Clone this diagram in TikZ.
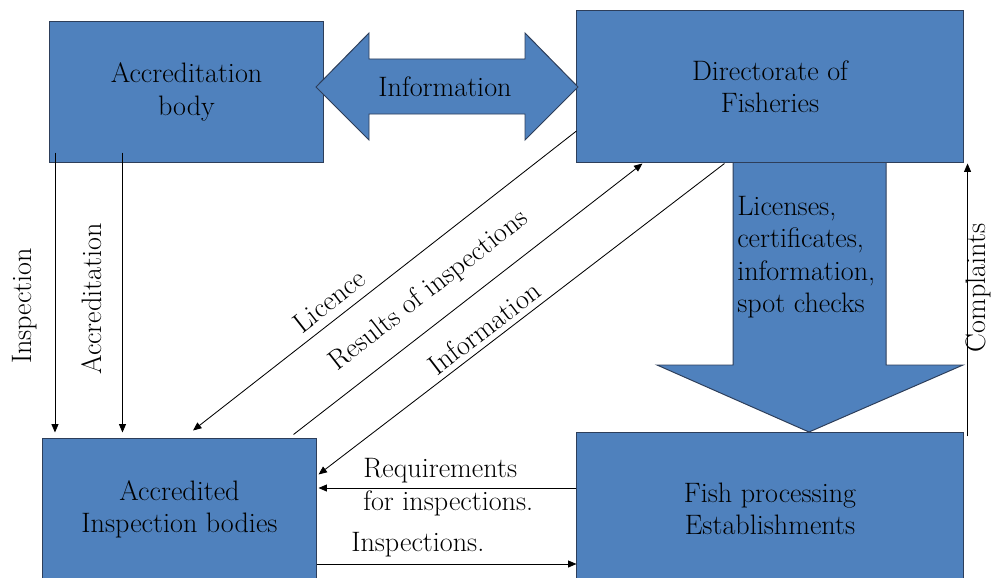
\documentclass[tikz,border=0pt]{standalone}
\usepackage{fontspec}
\usepackage{tikz}
\usetikzlibrary{arrows.meta, positioning, calc}

\definecolor{boxblue}{RGB}{79,129,189}
\definecolor{boxline}{RGB}{45,62,90}
\newcommand{\diagfont}{\rmfamily\fontsize{20}{23}\selectfont}

\begin{document}
\begin{tikzpicture}[
    x=0.025cm, y=-0.025cm,
    every node/.append style={font=\diagfont},
    box/.style={rectangle, draw=boxline, fill=boxblue, line width=0.7pt, inner sep=0pt, align=center},
    blockarrow/.style={draw=boxline, fill=boxblue, line width=0.7pt},
    arrow/.style={-{Triangle[length=6pt, width=5pt]}, line width=0.6pt},
    tag/.style={inner sep=0pt, align=left}
]
\useasboundingbox (0,0) rectangle (992,578);
\clip (0,0) rectangle (992,578);

% Big arrow down to the establishments
\draw[blockarrow] (733,162) -- (886,162) -- (886,365) -- (963,365) -- (809,432) -- (657,365) -- (733,365) -- cycle;
\node[tag, anchor=west] (licenses) at (737,257) {Licenses,\\certificates,\\information,\\spot checks};

% Boxes
\node[box, minimum width=6.825cm, minimum height=3.5cm] (accbody) at (186.5,92) {Accreditation\\body};
\node[box, minimum width=9.65cm, minimum height=3.775cm] (directorate) at (770,86.5) {Directorate of\\Fisheries};
\node[box, minimum width=6.825cm, minimum height=3.5cm] (inspbodies) at (179.5,509) {Accredited\\Inspection bodies};
\node[box, minimum width=9.65cm, minimum height=3.8cm] (fishproc) at (770,509) {Fish processing\\Establishments};

% Double arrow between the top boxes
\draw[blockarrow] (316,87) -- (369,33) -- (369,59) -- (525,59) -- (525,33) -- (578,87)
    -- (525,140) -- (525,114) -- (369,114) -- (369,140) -- cycle;
\node (info) at (445,87) {Information};

% Arrows from the accreditation body
\draw[arrow] ([shift={(5.5,-10)}]accbody.south west) -- ([shift={(12.5,-6)}]inspbodies.north west);
\draw[arrow] ([shift={(73,-10)}]accbody.south west) -- ([shift={(80,-6)}]inspbodies.north west);

% Diagonal arrows
\draw[arrow] ([shift={(0,44.5)}]directorate.west) -- ([shift={(13.5,-8)}]inspbodies.north);
\draw[arrow] ([shift={(-23,-4)}]inspbodies.north east) -- ([shift={(66,1)}]directorate.south west);
\draw[arrow] ([shift={(148,1)}]directorate.south west) -- ([shift={(2,36)}]inspbodies.north east);

% Arrows between the bottom boxes
\draw[arrow] ([shift={(0,-21)}]fishproc.west) -- ([shift={(2,-21)}]inspbodies.east);
\draw[arrow] ([shift={(0,55)}]inspbodies.east) -- ([shift={(0,55)}]fishproc.west);

% Complaints
\draw[arrow] ([shift={(4,4)}]fishproc.north east) -- ([shift={(4,1)}]directorate.south east);

% Labels
\node[rotate=90] (lblinsp) at (25,306) {Inspection};
\node[rotate=90] (lblaccr) at (92,299) {Accreditation};
\node[rotate=38] (lbllic) at (329,301) {Licence};
\node[rotate=38] (lblres) at (429,291) {Results of inspections};
\node[rotate=37.5] (lblinfo) at (484,328) {Information};
\node[tag, anchor=west] (lblreq) at (363,487) {Requirements\\for inspections.};
\node[tag, anchor=west] (lblinsps) at (351,545) {Inspections.};
\node[rotate=90] (lblcompl) at (978,288) {Complaints};

\end{tikzpicture}
\end{document}
